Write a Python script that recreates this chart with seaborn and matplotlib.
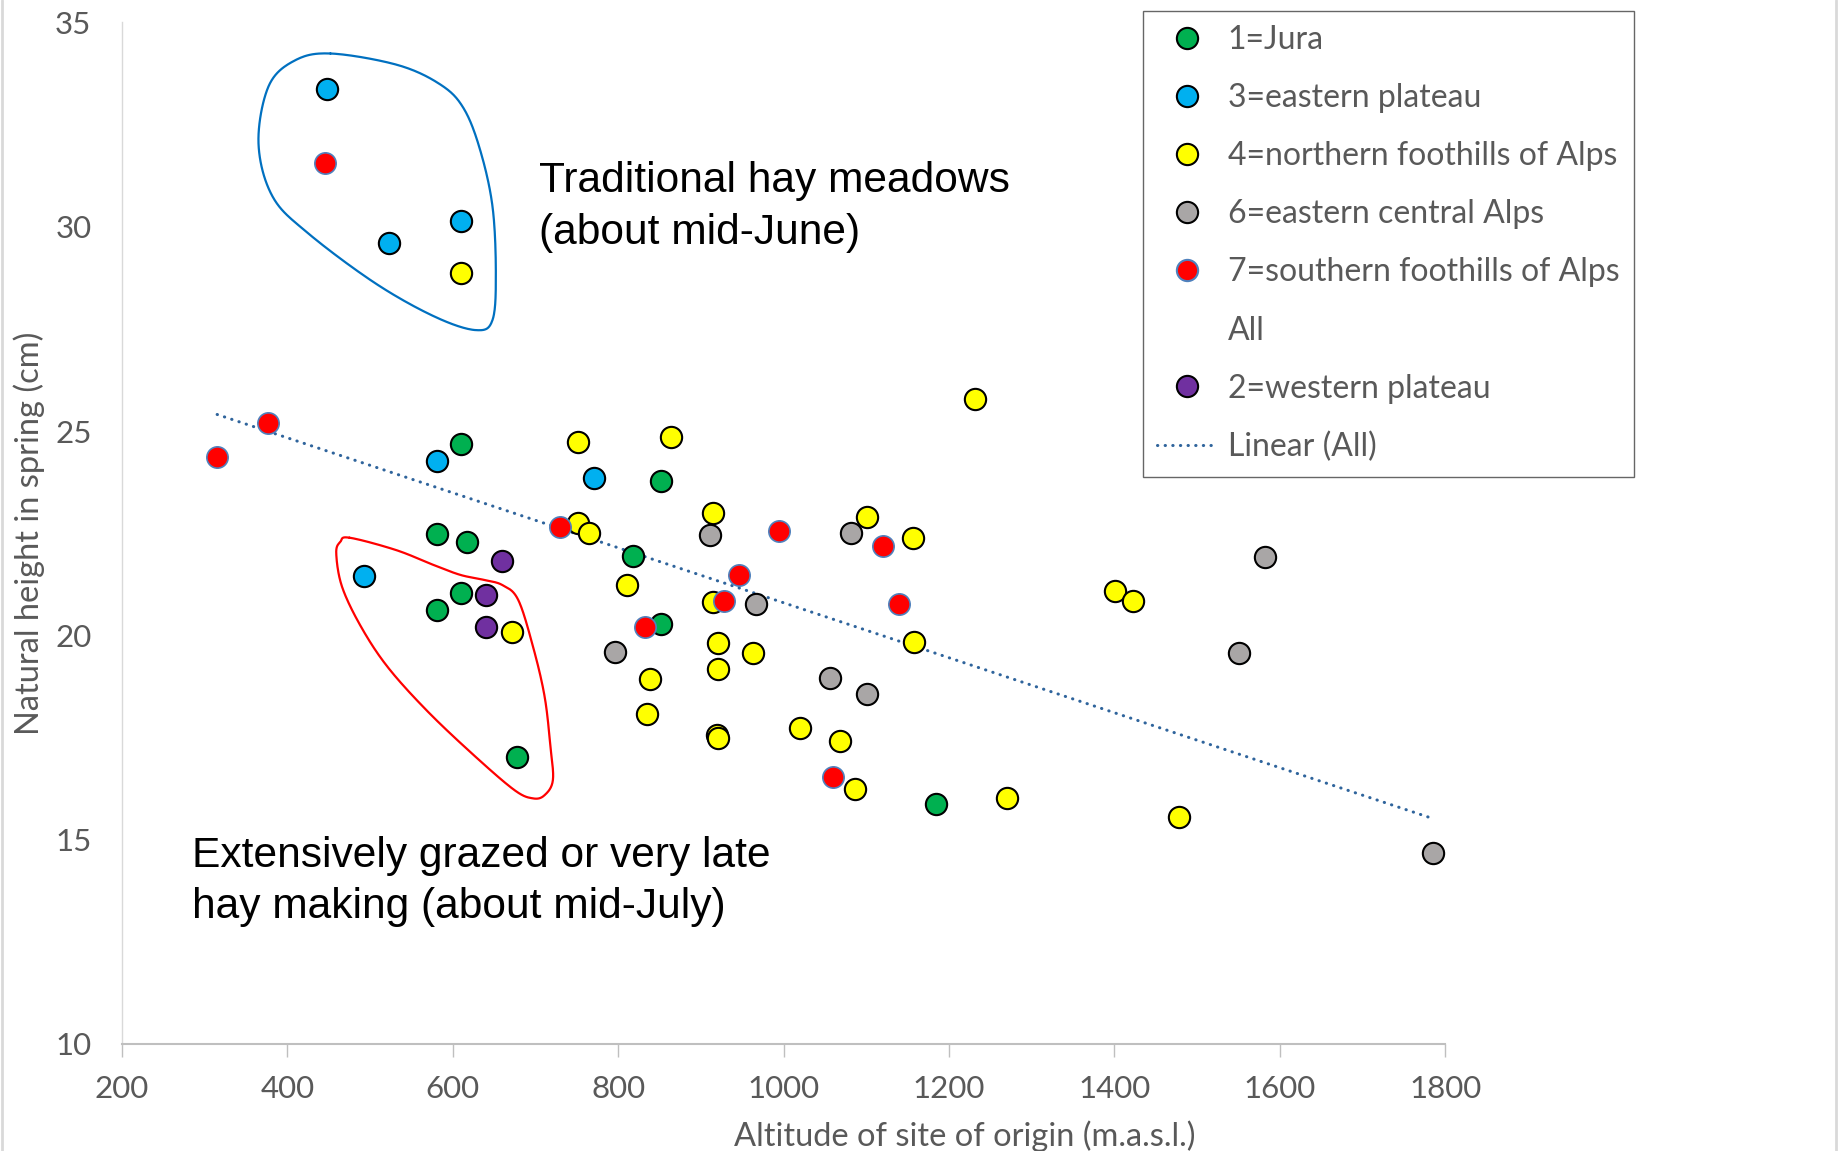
import pandas as pd
import seaborn as sns
import matplotlib.pyplot as plt
import numpy as np
from matplotlib.lines import Line2D

sns.set_style("white")
plt.rcParams['font.family'] = ['Lato', 'DejaVu Sans']

# altitude (m a.s.l.) and natural height in spring (cm), per region
jura_x = [610, 852, 581, 617, 818, 610, 581, 852, 677, 1184]
jura_y = [24.68, 23.78, 22.47, 22.29, 21.95, 21.03, 20.62, 20.27, 17.03, 15.87]

east_plateau_x = [448, 523, 610, 581, 771, 492]
east_plateau_y = [33.36, 29.60, 30.14, 24.27, 23.84, 21.45]

north_alps_x = [610, 751, 864, 1231, 751, 765, 915, 1101, 1156, 811, 671, 915, 1158,
                921, 963, 921, 839, 835, 920, 921, 1020, 1068, 1086, 1270, 1401, 1422, 1478]
north_alps_y = [28.87, 24.74, 24.86, 25.78, 22.76, 22.50, 22.99, 22.90, 22.39, 21.24, 20.07,
                20.81, 19.83, 19.81, 19.56, 19.18, 18.92, 18.07, 17.57, 17.49, 17.74, 17.42,
                16.23, 16.02, 21.09, 20.83, 15.56]

east_central_x = [911, 1081, 966, 796, 1056, 1101, 1582, 1551, 1785]
east_central_y = [22.45, 22.50, 20.77, 19.59, 18.95, 18.57, 21.91, 19.56, 14.67]

south_alps_x = [446, 315, 376, 730, 995, 1120, 946, 928, 1139, 832, 1060]
south_alps_y = [31.55, 24.36, 25.19, 22.65, 22.56, 22.19, 21.48, 20.83, 20.77, 20.21, 16.54]

west_plateau_x = [659, 640, 640]
west_plateau_y = [21.83, 20.98, 20.21]

regions = ["1=Jura", "3=eastern plateau", "4=northern foothills of Alps",
           "6=eastern central Alps", "7=southern foothills of Alps", "2=western plateau"]
xs = [jura_x, east_plateau_x, north_alps_x, east_central_x, south_alps_x, west_plateau_x]
ys = [jura_y, east_plateau_y, north_alps_y, east_central_y, south_alps_y, west_plateau_y]

df = pd.concat([pd.DataFrame({"altitude": x, "height": y, "region": r})
                for r, x, y in zip(regions, xs, ys)], ignore_index=True)

face = {"1=Jura": "#00B050", "3=eastern plateau": "#00B0F0",
        "4=northern foothills of Alps": "#FFFF00", "6=eastern central Alps": "#A9A6A6",
        "7=southern foothills of Alps": "#FF0000", "2=western plateau": "#7030A0"}
edge = {r: "black" for r in regions}
edge["7=southern foothills of Alps"] = "#4F81BD"

grey = "#595959"
trend_col = "#2F649C"

fig = plt.figure(figsize=(18.41, 11.51), dpi=100)
ax = fig.add_axes([0.0663, 0.093, 0.7187, 0.8875])

# trendline over all points
sns.regplot(data=df, x="altitude", y="height", scatter=False, ci=None, ax=ax,
            line_kws=dict(color=trend_col, lw=2.2, ls=(0, (0.1, 2.4)),
                          dash_capstyle="round"))

for r in regions:
    sub = df[df.region == r]
    sns.scatterplot(data=sub, x="altitude", y="height", color=face[r], s=235,
                    edgecolor=edge[r], linewidth=1.5 if r != regions[4] else 1.2,
                    legend=False, ax=ax, zorder=3)


def closed_curve(px, py, n=24):
    P = np.column_stack([px, py])
    m = len(P)
    t = np.linspace(0, 1, n, endpoint=False)[:, None]
    out = []
    for i in range(m):
        p0, p1, p2, p3 = P[i - 1], P[i], P[(i + 1) % m], P[(i + 2) % m]
        out.append(0.5 * (2 * p1 + (-p0 + p2) * t + (2 * p0 - 5 * p1 + 4 * p2 - p3) * t ** 2
                          + (-p0 + 3 * p1 - 3 * p2 + p3) * t ** 3))
    out = np.vstack(out + [out[0][:1]])
    return out[:, 0], out[:, 1]


# hand-drawn outlines around the two groups
bx, by = closed_curve([452, 533, 585, 613, 633, 648, 652, 648, 628, 578, 506, 425, 382, 365, 377, 408],
                      [34.24, 33.96, 33.48, 32.90, 31.88, 30.49, 28.86, 27.72, 27.47, 27.80,
                       28.62, 29.84, 30.74, 32.04, 33.43, 34.06])
ax.plot(bx, by, color="#0070C0", lw=1.6, zorder=2)
rx, ry = closed_curve([475, 531, 577, 609, 637, 660, 679, 697, 711, 718, 721, 711, 697, 674,
                       623, 568, 521, 489, 466, 459, 464],
                      [22.39, 22.09, 21.72, 21.48, 21.36, 21.23, 20.87, 19.72, 18.50, 17.28,
                       16.46, 16.09, 16.01, 16.22, 17.11, 18.17, 19.23, 20.21, 21.19, 22.01, 22.29])
ax.plot(rx, ry, color="#FF0000", lw=1.6, zorder=2)

ax.text(704, 31.6, "Traditional hay meadows\n(about mid-June)", fontsize=30.6,
        family="Liberation Sans", va="top", ha="left", linespacing=1.36, color="black")
ax.text(284, 15.1, "Extensively grazed or very late\nhay making (about mid-July)", fontsize=30.6,
        family="Liberation Sans", va="top", ha="left", linespacing=1.36, color="black")

ax.set_xlim(200, 1800)
ax.set_ylim(10, 35)
ax.set_xticks(range(200, 1801, 200))
ax.set_yticks(range(10, 36, 5))
ax.tick_params(axis="x", length=9, width=1, color="#BFBFBF", pad=13, labelsize=22.5,
               labelcolor=grey, direction="out", bottom=True)
ax.tick_params(axis="y", length=0, pad=22, labelsize=22.5, labelcolor=grey)
sns.despine(ax=ax)
ax.spines["left"].set_color("#D9D9D9")
ax.spines["left"].set_linewidth(1)
ax.spines["bottom"].set_color("#BFBFBF")
ax.spines["bottom"].set_linewidth(1.5)

ax.set_xlabel("Altitude of site of origin (m.a.s.l.)", fontsize=23.5, color=grey, va="top")
ax.xaxis.set_label_coords(0.637, -0.075)
ax.set_ylabel("Natural height in spring (cm)", fontsize=23.5, color=grey)
ax.yaxis.set_label_coords(-0.058, 0.5)

handles = []
for r in regions[:5]:
    handles.append(Line2D([], [], ls="none", marker="o", markersize=15.3,
                          markerfacecolor=face[r], markeredgecolor=edge[r], markeredgewidth=1.5))
handles.append(Line2D([], [], ls="none"))
handles.append(Line2D([], [], ls="none", marker="o", markersize=15.3,
                      markerfacecolor=face[regions[5]], markeredgecolor="black", markeredgewidth=1.5))
handles.append(Line2D([], [], color=trend_col, lw=2.2, ls=(0, (0.1, 2.4)), dash_capstyle="round"))
labels = regions[:5] + ["All", regions[5], "Linear (All)"]

leg = ax.legend(handles, labels, loc="upper left", bbox_to_anchor=(0.6209, 0.9908),
                bbox_transform=fig.transFigure, borderaxespad=0, fontsize=23, frameon=True,
                fancybox=False, edgecolor="#404040", labelspacing=0.88, handlelength=1.85,
                handletextpad=0.35, borderpad=0.45, labelcolor=grey)
leg.get_frame().set_linewidth(1.0)

# thin chart-area border at the image edges
fig.add_artist(Line2D([0.0012, 0.0012], [0, 1], transform=fig.transFigure, color="#D9D9D9", lw=2))
fig.add_artist(Line2D([0.9975, 0.9975], [0, 1], transform=fig.transFigure, color="#D9D9D9", lw=2))

fig.savefig("out.png", dpi=100)
